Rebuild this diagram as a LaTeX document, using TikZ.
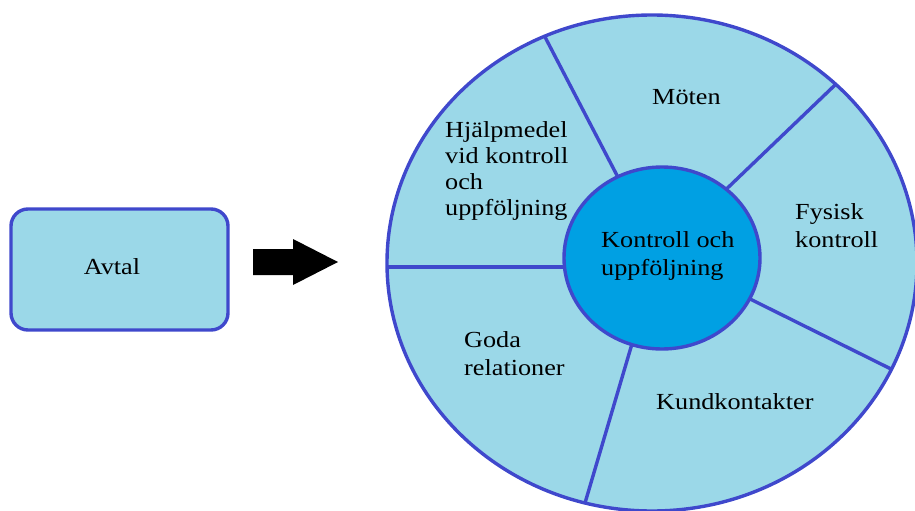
\documentclass[tikz,border=0pt]{standalone}
\usepackage{fontspec}
\setmainfont[FakeStretch=1.14]{Liberation Serif}
\usetikzlibrary{shapes.geometric}
\definecolor{ringfill}{RGB}{155,216,232}
\definecolor{edgeblue}{RGB}{63,72,204}
\definecolor{corefill}{RGB}{0,160,227}
\begin{document}
\begin{tikzpicture}[x=1pt,y=-1pt,
  lbl/.style={font=\fontsize{23}{27.5}\selectfont, inner sep=0pt, align=left, text=black},
  tightlbl/.style={lbl, font=\fontsize{23}{25.8}\selectfont},
  spoke/.style={draw=edgeblue, line width=3.4pt},
  outline/.style={draw=edgeblue, line width=3.4pt}]
\useasboundingbox (0,0) rectangle (915,511);
% Avtal box
\node[outline, fill=ringfill, rounded corners=17pt, minimum width=217pt, minimum height=121pt, inner sep=0pt] (avtal) at (119.5,269.5) {};
\node[lbl, anchor=base] (avtaltext) at (112,274) {Avtal};
% block arrow
\fill[black] (253,249) -- (293,249) -- (293,239) -- (338,262) -- (293,285) -- (293,275) -- (253,275) -- cycle;
\begin{scope}
\clip (0,0) rectangle (915,511);
\path[fill=ringfill] (652,263) ellipse [x radius=265pt, y radius=248pt];
% spokes
\coordinate (oA) at (545,37);  \coordinate (iA) at (622,185);
\coordinate (oB) at (835,85);  \coordinate (iB) at (715,200);
\coordinate (oC) at (891,369); \coordinate (iC) at (740,294);
\coordinate (oD) at (585,503); \coordinate (iD) at (634,337);
\coordinate (oL) at (388,267); \coordinate (iL) at (575,267);
\draw[spoke] (oA) -- (iA);
\draw[spoke] (oB) -- (iB);
\draw[spoke] (oC) -- (iC);
\draw[spoke] (oD) -- (iD);
\draw[spoke] (oL) -- (iL);
\node[ellipse, outline, fill=corefill, minimum width=196pt, minimum height=182pt, inner sep=0pt] (core) at (662,258) {};
\draw[outline] (652,263) ellipse [x radius=265pt, y radius=248pt];
\end{scope}
% labels (base anchor = baseline of last line)
\node[lbl, anchor=base west] (corelbl) at (601,275) {Kontroll och\\uppföljning};
\node[lbl, anchor=base west] (moten) at (652,104) {Möten};
\node[tightlbl, anchor=base west] (hjalp) at (445,215) {Hjälpmedel\\vid kontroll\\och\\uppföljning};
\node[lbl, anchor=base west] (fysisk) at (795,247) {Fysisk\\kontroll};
\node[lbl, anchor=base west] (goda) at (464,375) {Goda\\relationer};
\node[lbl, anchor=base west] (kund) at (656,409) {Kundkontakter};
\end{tikzpicture}
\end{document}
